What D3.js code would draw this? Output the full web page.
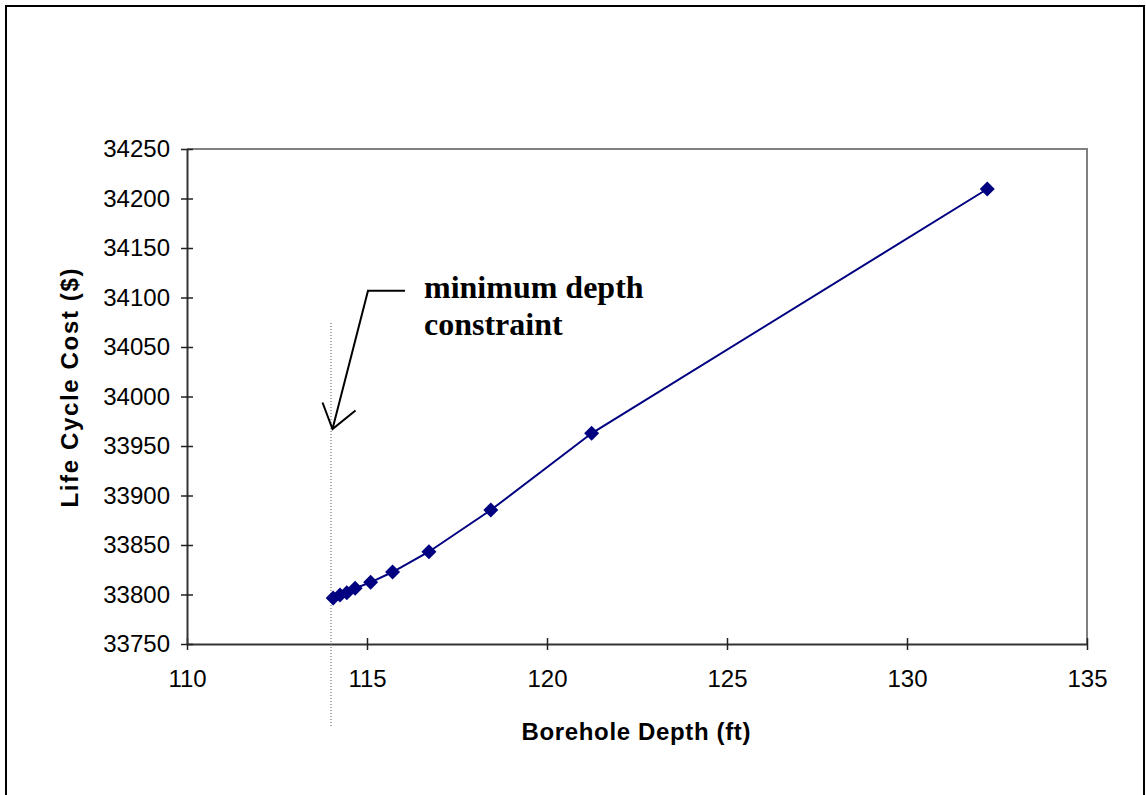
<!DOCTYPE html>
<html><head><meta charset="utf-8">
<script src="https://cdn.jsdelivr.net/npm/d3@7"></script>
<style>body{margin:0;background:#fff}svg{display:block}</style>
</head><body>
<script>
const depth = [114.06, 114.25, 114.44, 114.67, 115.1, 115.71, 116.72, 118.44, 121.24, 132.23];
const cost  = [33796.5, 33799.5, 33801.8, 33806.3, 33812.3, 33822.7, 33843.2, 33885.4, 33962.8, 34209.6];
const xTicks = [110, 115, 120, 125, 130, 135];
const yTicks = [33750, 33800, 33850, 33900, 33950, 34000, 34050, 34100, 34150, 34200, 34250];
const minDepth = 114.0;
const xLabel = "Borehole Depth (ft)";
const yLabel = "Life Cycle Cost ($)";
const annot = ["minimum depth", "constraint"];

const W = 1146, H = 795;
const L = 187, R = 1087, T = 149, B = 644;
const svg = d3.select("body").append("svg").attr("width", W).attr("height", H);

// outer frame
svg.append("path").attr("d", `M6,${H} V6 H1144 V${H}`).attr("fill","none").attr("stroke","#000").attr("stroke-width",2);

const x = d3.scaleLinear().domain([110,135]).range([L,R]);
const y = d3.scaleLinear().domain([33750,34250]).range([B,T]);

// plot area border (top/right gray)
svg.append("path").attr("d", `M${L},${T} H${R} V${B}`).attr("fill","none").attr("stroke","#808080").attr("stroke-width",2);

// axes
const xa = svg.append("g").attr("transform",`translate(0,${B})`)
  .call(d3.axisBottom(x).tickValues(xTicks).tickFormat(d3.format("d")).tickSizeInner(6).tickSizeOuter(0).tickPadding(14));
const ya = svg.append("g").attr("transform",`translate(${L},0)`)
  .call(d3.axisLeft(y).tickValues(yTicks).tickFormat(d3.format("d")).tickSizeInner(6).tickSizeOuter(0).tickPadding(11));
[xa, ya].forEach(g => {
  g.select(".domain").attr("stroke","#333").attr("stroke-width",2);
  g.selectAll(".tick line").attr("stroke","#222").attr("stroke-width",1.5);
  g.selectAll(".tick text").attr("font-family","'Liberation Sans', Arial, sans-serif").attr("font-size",24).attr("fill","#000");
});
xa.selectAll(".tick text").attr("dy","0.95em");
// ticks cross the axis
xa.selectAll(".tick line").attr("y1",-6).attr("y2",6);
ya.selectAll(".tick line").attr("x1",-6).attr("x2",6);

// dotted min depth line
svg.append("line").attr("x1",x(minDepth)).attr("x2",x(minDepth)).attr("y1",323).attr("y2",726)
  .attr("stroke","#555").attr("stroke-width",1).attr("stroke-dasharray","1,2");

// series line
const pts = depth.map((d,i)=>[d,cost[i]]);
svg.append("path").datum(pts)
  .attr("d", d3.line().x(d=>x(d[0])).y(d=>y(d[1])))
  .attr("fill","none").attr("stroke","#000080").attr("stroke-width",2);
svg.selectAll(".pt").data(pts).enter().append("path")
  .attr("transform", d=>`translate(${x(d[0])},${y(d[1])})`)
  .attr("d","M0,-7.5 L7.5,0 L0,7.5 L-7.5,0 Z").attr("fill","#000080");

// axis titles
svg.append("text").attr("x",636).attr("y",740).attr("text-anchor","middle")
  .attr("font-family","'Liberation Sans', Arial, sans-serif").attr("font-weight","bold").attr("font-size",24)
  .attr("textLength",229).attr("lengthAdjust","spacing").text(xLabel);
svg.append("text").attr("transform",`translate(78,388) rotate(-90)`).attr("text-anchor","middle")
  .attr("font-family","'Liberation Sans', Arial, sans-serif").attr("font-weight","bold").attr("font-size",24)
  .attr("textLength",239).attr("lengthAdjust","spacing").text(yLabel);

// annotation
const ann = svg.append("text").attr("font-family","'Liberation Serif', 'Times New Roman', serif")
  .attr("font-weight","bold").attr("font-size",32).attr("fill","#000");
ann.append("tspan").attr("x",424).attr("y",298).text(annot[0]);
ann.append("tspan").attr("x",424).attr("y",335).text(annot[1]);
svg.append("path").attr("d","M405,290.7 H368 L332.5,429 M322.5,402.5 L332.5,429 L355.5,410.5")
  .attr("fill","none").attr("stroke","#000").attr("stroke-width",2);
</script>
</body></html>
